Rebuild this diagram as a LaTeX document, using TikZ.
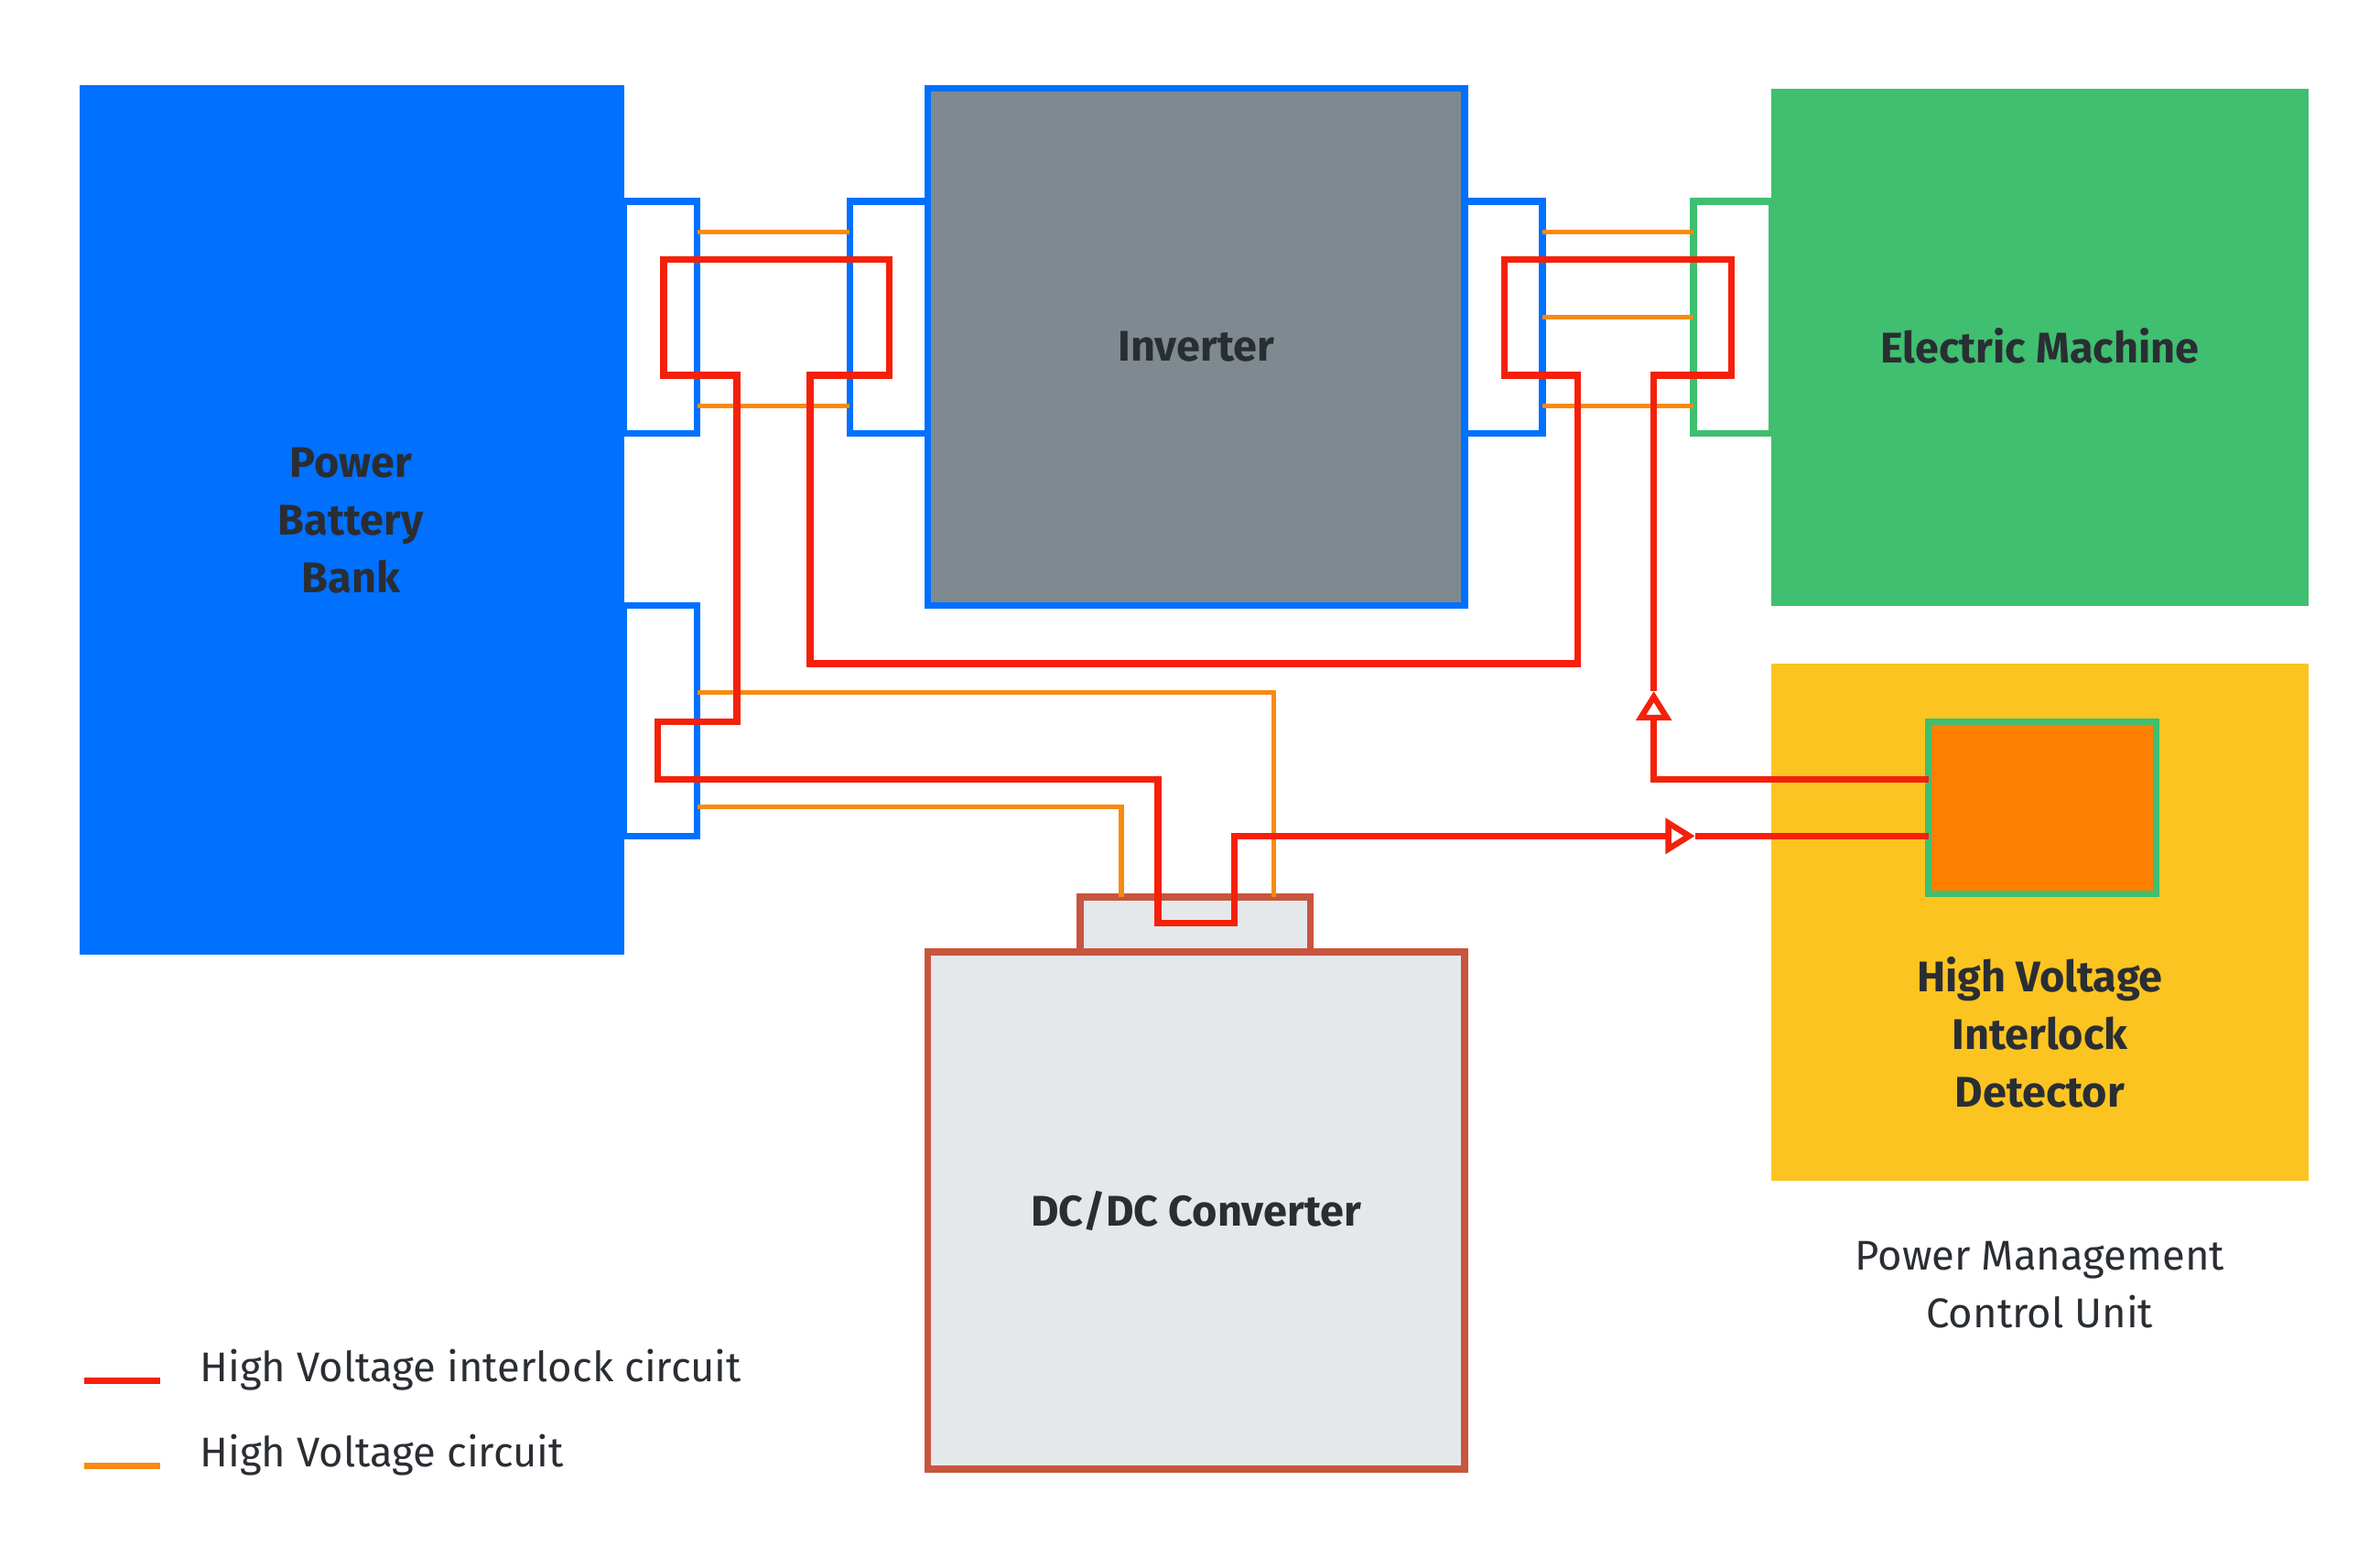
\documentclass[tikz,border=0pt]{standalone}
\usepackage{fontspec}
\setmainfont{Fira Sans}
\usetikzlibrary{arrows.meta}
\definecolor{batblue}{HTML}{0070FF}
\definecolor{invgray}{HTML}{7F8A90}
\definecolor{emgreen}{HTML}{3FBF6F}
\definecolor{detyellow}{HTML}{FCC421}
\definecolor{detorange}{HTML}{FF8000}
\definecolor{dcgray}{HTML}{E5E8EB}
\definecolor{dcbrown}{HTML}{C8553D}
\definecolor{hvred}{HTML}{F5200A}
\definecolor{hvorange}{HTML}{F98A12}
\definecolor{txt}{HTML}{2A2E33}
\tikzset{
  lbl/.style={font=\fontsize{16}{21.5}\selectfont\bfseries, text=txt, align=center},
  note/.style={font=\fontsize{15.5}{21.5}\selectfont\addfontfeature{FakeBold=0}, text=txt, align=center},
  plug/.style={draw, fill=white, line width=2.4pt},
  hvil/.style={draw=hvred, line width=2.4pt, line join=miter},
  hv/.style={draw=hvorange, line width=1.9pt},
  tip/.style={-{Triangle[open,length=11pt,width=13pt,line width=2.2pt]}}
}
\begin{document}
\begin{tikzpicture}[x=0.02cm, y=-0.02cm]
  \useasboundingbox (0,0) rectangle (1560,1013);
  % Boxes
  \fill[batblue] (52,56) rectangle (409,626);
  \node (bat) [lbl] at (230,341) {Power\\Battery\\Bank};
  \draw[plug, draw=batblue] (409,132) rectangle (457,284);
  \draw[plug, draw=batblue] (409,397) rectangle (457,548);
  \draw[fill=invgray, draw=batblue, line width=2.4pt] (608,58) rectangle (960,397);
  \node (inv) [lbl] at (784,227) {Inverter};
  \draw[plug, draw=batblue] (557,132) rectangle (608,284);
  \draw[plug, draw=batblue] (960,132) rectangle (1011,284);
  \fill[emgreen] (1161,58) rectangle (1513,397);
  \node (em) [lbl] at (1337,227) {Electric Machine};
  \draw[plug, draw=emgreen] (1110,132) rectangle (1161,284);
  \fill[detyellow] (1161,435) rectangle (1513,774);
  \draw[fill=detorange, draw=emgreen, line width=2.4pt] (1264,473) rectangle (1413,586);
  \node (det) [lbl] at (1337,677) {High Voltage\\Interlock\\Detector};
  \node (pmcu) [note] at (1337,842) {Power Management\\Control Unit};
  \draw[fill=dcgray, draw=dcbrown, line width=2.4pt] (608,624) rectangle (960,963);
  \draw[fill=dcgray, draw=dcbrown, line width=2.4pt] (708,588) rectangle (859,624);
  \node (dc) [lbl] at (784,794) {DC/DC Converter};
  % High voltage circuit
  \foreach \y in {152,266} \draw[hv] (457,\y) -- (557,\y);
  \foreach \y in {152,208,266} \draw[hv] (1011,\y) -- (1110,\y);
  \draw[hv] (457,454) -| (835,588);
  \draw[hv] (457,529) -| (735,588);
  % Interlock loop
  \draw[hvil, tip] (1264,511) -| (1084,453);
  \draw[hvil] (1084,453) |- (1135,246) |- (986,170) |- (1034,246) |- (531,435)
    |- (583,246) |- (435,170) |- (483,246) |- (431,473) |- (759,511) |- (809,605)
    |- (1089,548);
  \draw[hvil, tip] (1089,548) -- (1111,548);
  \draw[hvil] (1111,548) -- (1264,548);
  % Legend
  \draw[hvil] (55,905) coordinate (l1) -- (105,905) coordinate (l1e);
  \node (leg1) [note, anchor=west] at (125,898) {High Voltage interlock circuit};
  \draw[hv, line width=2.4pt] (55,961) coordinate (l2) -- (105,961) coordinate (l2e);
  \node (leg2) [note, anchor=west] at (125,954) {High Voltage circuit};
\end{tikzpicture}
\end{document}
